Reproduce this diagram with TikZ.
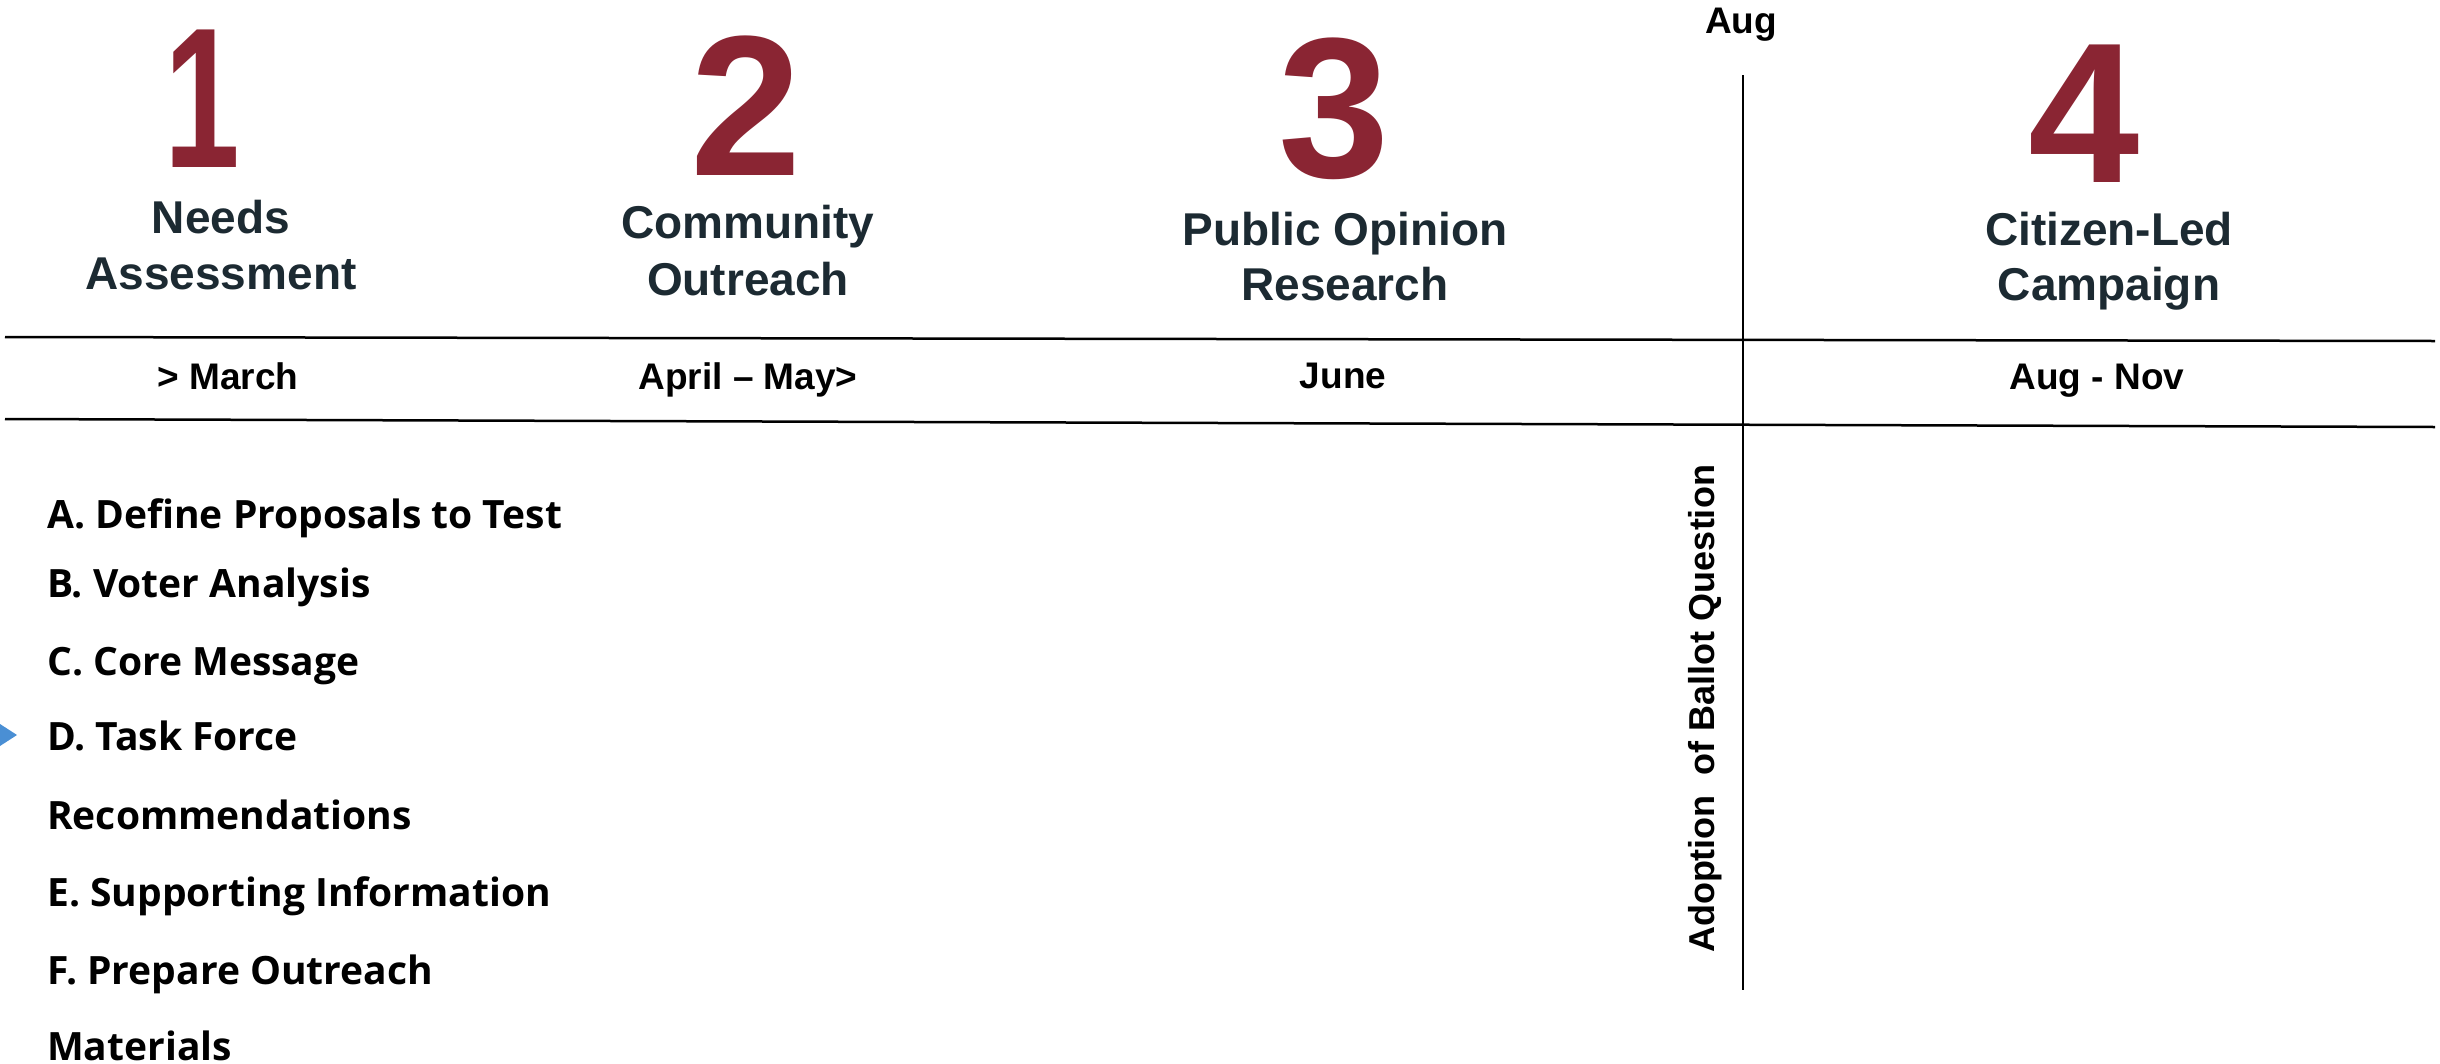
\documentclass[tikz,border=0pt]{standalone}
\usepackage{fontspec}
\setmainfont{Liberation Sans}
\newfontfamily\listfont{Open Sans}
\definecolor{digitred}{HTML}{8A2533}
\definecolor{headink}{HTML}{1C2A32}
\definecolor{tribl}{HTML}{4A8FD4}
\tikzset{
  bignum/.style={text=digitred, font=\fontsize{200}{200}\selectfont\bfseries, anchor=base, inner sep=0pt, text height=144pt, text depth=0pt},
  headtxt/.style={text=headink, font=\fontsize{46}{56}\selectfont\bfseries, anchor=base, inner sep=0pt},
  datetxt/.style={text=black, font=\fontsize{37}{44}\selectfont\bfseries, anchor=base, inner sep=0pt},
  itemtxt/.style={text=black, font=\listfont\fontsize{39}{46}\selectfont\bfseries, anchor=base west, inner sep=0pt},
  rule/.style={line width=2.5pt, black},
  vrule/.style={line width=2pt, black}
}
\begin{document}
\begin{tikzpicture}[x=1pt,y=-1pt]
\useasboundingbox (0,0) rectangle (2440,1063);
% rules
\coordinate (l1a) at (5,337);
\coordinate (l1b) at (2435,341);
\coordinate (l2a) at (5,419);
\coordinate (l2b) at (2435,427);
\coordinate (va) at (1743,75);
\coordinate (vb) at (1743,990);
\draw[rule] (l1a) -- (l1b);
\draw[rule] (l2a) -- (l2b);
\draw[vrule] (va) -- (vb);
% digits
\node[bignum] (n1) at (202,167) {\scalebox{0.68}[1]{1}};
\node[bignum] (n2) at (746,175) {2};
\node[bignum] (n3) at (1334,177) {3};
\node[bignum] (n4) at (2084,182) {4};
% headings
\node[headtxt] (h1a) at (221,233) {Needs};
\node[headtxt] (h1b) at (221,289) {Assessment};
\node[headtxt] (h2a) at (748,238) {Community};
\node[headtxt] (h2b) at (748,295) {Outreach};
\node[headtxt] (h3a) at (1345,245) {Public Opinion};
\node[headtxt] (h3b) at (1345,300) {Research};
\node[headtxt] (h4a) at (2109,245) {Citizen-Led};
\node[headtxt] (h4b) at (2109,300) {Campaign};
% dates
\node[datetxt] (d1) at (228,389) {> March};
\node[datetxt] (d2) at (748,389) {April – May>};
\node[datetxt] (d3) at (1343,388) {June};
\node[datetxt] (d4) at (2097,389) {Aug - Nov};
\node[datetxt] (aug) at (1741,33) {Aug};
% rotated label
\node[datetxt, font=\fontsize{36}{44}\selectfont\bfseries, rotate=90] (adopt) at (1714,709) {Adoption\ \ of Ballot Question};
% list
\node[itemtxt] (ia) at (47,528) {A. Define Proposals to Test};
\node[itemtxt] (ib) at (47,597) {B. Voter Analysis};
\node[itemtxt] (ic) at (47,675) {C. Core Message};
\node[itemtxt] (id) at (47,750) {D. Task Force};
\node[itemtxt] (ir) at (47,829) {Recommendations};
\node[itemtxt] (ie) at (47,906) {E. Supporting Information};
\node[itemtxt] (if) at (47,984) {F. Prepare Outreach};
\node[itemtxt, text depth=0pt] (im) at (47,1060) {Materials};
% bullet marker
\fill[tribl] (0,724) -- (17,735) -- (0,746) -- cycle;
\end{tikzpicture}
\end{document}
